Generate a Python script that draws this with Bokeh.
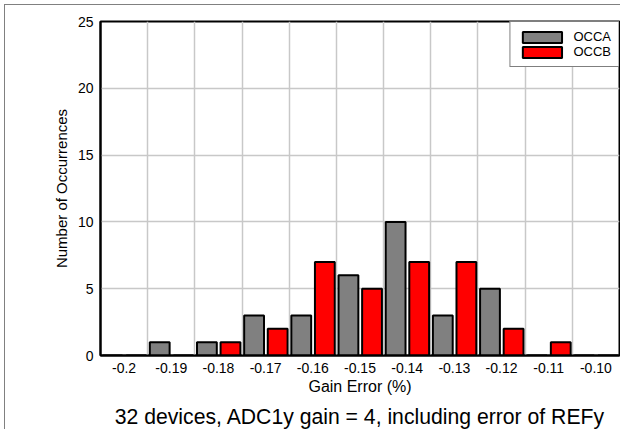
from bokeh.plotting import figure
from bokeh.models import (ColumnDataSource, FixedTicker, Range1d, Legend, LegendItem,
                          LinearAxis, CustomJSTickFormatter)
from bokeh.transform import dodge
from bokeh.embed import file_html
from bokeh.resources import INLINE

categories = ["-0.2", "-0.19", "-0.18", "-0.17", "-0.16", "-0.15",
              "-0.14", "-0.13", "-0.12", "-0.11", "-0.10"]
occa = [0, 1, 1, 3, 3, 6, 10, 3, 5, 0, 0]
occb = [0, 0, 1, 2, 7, 5, 7, 7, 2, 1, 0]
y_ticks = [0, 5, 10, 15, 20, 25]
caption_text = "32 devices, ADC1y gain = 4, including error of REFy"

FONT = "Liberation Sans"

x_pos = [i + 0.5 for i in range(len(categories))]
source = ColumnDataSource(dict(x=x_pos, cat=categories, occa=occa, occb=occb))

p = figure(width=616, height=425,
           x_range=Range1d(0, len(categories)), y_range=Range1d(0, 25),
           output_backend="svg", toolbar_location=None,
           min_border_left=95, min_border_right=2, min_border_top=16,
           min_border_bottom=75)
p.styles = {"margin-left": "4px", "margin-top": "4px",
            "border-top": "1px solid #808080", "border-left": "1px solid #808080"}

p.background_fill_color = "white"
p.border_fill_color = "white"
p.outline_line_color = "black"
p.outline_line_width = 2

r1 = p.vbar(x=dodge("x", -0.245, range=p.x_range), top="occa", width=0.42,
            bottom=0, source=source, fill_color="#808080", line_color="black",
            line_width=2)
r2 = p.vbar(x=dodge("x", 0.255, range=p.x_range), top="occb", width=0.42,
            bottom=0, source=source, fill_color="#ff0000", line_color="black",
            line_width=2)

# axes
p.xaxis.ticker = FixedTicker(ticks=x_pos)
p.xaxis.formatter = CustomJSTickFormatter(args=dict(labels=categories),
                                          code="return labels[Math.round(tick - 0.5)];")
p.yaxis.ticker = FixedTicker(ticks=y_ticks)
for ax in (p.xaxis[0], p.yaxis[0]):
    ax.major_tick_line_color = None
    ax.minor_tick_line_color = None
    ax.major_tick_out = 0
    ax.major_tick_in = 0
    ax.minor_tick_out = 0
    ax.minor_tick_in = 0
    ax.axis_line_color = "black"
    ax.axis_line_width = 2
    ax.major_label_text_font = FONT
    ax.major_label_text_font_size = "14px"
    ax.major_label_text_color = "black"
    ax.axis_label_text_font = FONT
    ax.axis_label_text_font_style = "normal"
    ax.axis_label_text_color = "black"
p.xaxis.axis_label = "Gain Error (%)"
p.yaxis.axis_label = "Number of Occurrences"
p.xaxis.axis_label_text_font_size = "16px"
p.yaxis.axis_label_text_font_size = "15px"
p.xaxis.major_label_standoff = 7
p.yaxis.major_label_standoff = 7
p.xaxis.axis_label_standoff = 2
p.yaxis.axis_label_standoff = 5

# caption as a label-only axis below the x axis
cap_axis = LinearAxis(ticker=FixedTicker(ticks=[]), axis_label=caption_text,
                      axis_line_color=None, major_tick_line_color=None,
                      minor_tick_line_color=None, major_tick_out=0, major_tick_in=0,
                      minor_tick_out=0, minor_tick_in=0, major_label_standoff=0,
                      axis_label_standoff=7, axis_label_text_font=FONT,
                      axis_label_text_font_size="21.2px",
                      axis_label_text_line_height=1.0,
                      axis_label_text_font_style="normal",
                      axis_label_text_color="black")
p.add_layout(cap_axis, "below")

# grids
p.xgrid.ticker = FixedTicker(ticks=list(range(1, len(categories))))
p.ygrid.ticker = FixedTicker(ticks=y_ticks)
for g in (p.xgrid[0], p.ygrid[0]):
    g.grid_line_color = "#c8c8c8"
    g.grid_line_width = 1.5

legend = Legend(items=[LegendItem(label="OCCA", renderers=[r1]),
                       LegendItem(label="OCCB", renderers=[r2])],
                location="top_right", margin=0, padding=7, spacing=0,
                glyph_width=49, glyph_height=14, label_height=14,
                label_standoff=7, label_text_font=FONT,
                label_text_font_size="13px", label_text_color="black",
                border_line_color="black", border_line_width=1.5,
                background_fill_color="white", background_fill_alpha=1.0)
p.add_layout(legend)

open("out.html", "w").write(file_html(p, INLINE))
